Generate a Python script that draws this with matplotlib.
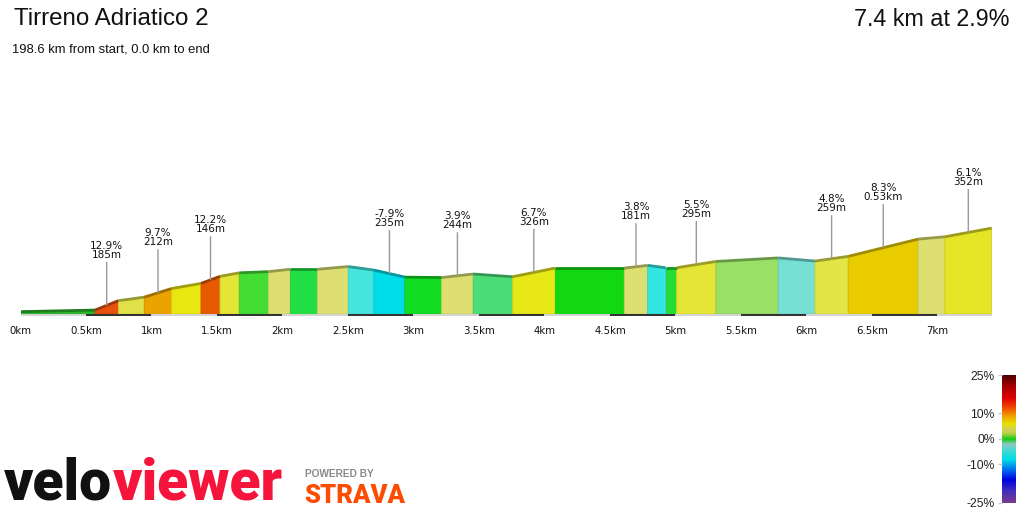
import numpy as np
import matplotlib
matplotlib.use("Agg")
import matplotlib.pyplot as plt
from matplotlib.colors import LinearSegmentedColormap, to_rgb

# profile vertices: distance (km) and elevation (m above the lowest point)
dist_km = [0.000, 0.569, 0.747, 0.945, 1.154, 1.378, 1.523, 1.670, 1.892, 2.057,
           2.266, 2.502, 2.698, 2.935, 3.215, 3.456, 3.757, 4.080, 4.609, 4.788,
           4.925, 5.009, 5.309, 5.785, 6.065, 6.319, 6.853, 7.057, 7.414]
elev_m = [6, 10, 34, 43, 65, 78, 96, 105, 108, 114,
          114, 121, 112, 94, 93, 102, 95, 117, 117, 124,
          118, 118, 134, 143, 135, 147, 191, 197, 219]

# fill colour of each segment (gradient colour in the original)
seg_colors = ['#2db82d', '#e8500c', '#e0e048', '#eba300', '#e8e810', '#e85a00',
              '#e5e535', '#44dd33', '#dde070', '#22dd44', '#dde070', '#44e5dd',
              '#00dde8', '#11dd22', '#dde070', '#4ddd77', '#e8e817', '#11d811',
              '#dde070', '#33e5e0', '#22dd33', '#e5e535', '#99e066', '#77e0d5',
              '#e2e545', '#e8cc00', '#dde070', '#e5e525']

# labelled climbs: segment index, grade, length
label_seg = [1, 3, 5, 12, 14, 16, 18, 21, 24, 25, 27]
label_grade = [12.9, 9.7, 12.2, -7.9, 3.9, 6.7, 3.8, 5.5, 4.8, 8.3, 6.1]
label_len = ['185m', '212m', '146m', '235m', '244m', '326m', '181m', '295m',
             '259m', '0.53km', '352m']

tick_km = [0, 0.5, 1, 1.5, 2, 2.5, 3, 3.5, 4, 4.5, 5, 5.5, 6, 6.5, 7]
tick_labels = ['0km', '0.5km', '1km', '1.5km', '2km', '2.5km', '3km', '3.5km',
               '4km', '4.5km', '5km', '5.5km', '6km', '6.5km', '7km']

cbar_ticks = [25, 10, 0, -10, -25]
grade_stops = [-25, -20, -16, -12, -8, -4, -2, 0, 2, 3.5, 6, 9, 12, 16, 20, 25]
grade_cols = ['#7b3a8c', '#3a2fc0', '#0000e0', '#0070f0', '#00dce8', '#50d8d0',
              '#90c8c0', '#10cc10', '#b0d040', '#d0d060', '#e8e000', '#f0a000',
              '#f05000', '#e00000', '#b00000', '#500000']

W, H = 1024, 512
fig = plt.figure(figsize=(W / 100, H / 100), dpi=100)
fig.patch.set_facecolor('white')

def px(x, y):
    return x / W, 1 - y / H

# ---- profile
ax = fig.add_axes([20.5 / W, (H - 316) / H, 971.2 / W, 156 / H])
ax.set_xlim(0, 7.414)
ax.set_ylim(-5.1, 392.7)
ax.axis('off')

def darker(c, f=0.68):
    r, g, b = to_rgb(c)
    return (r * f, g * f, b * f)

for i, c in enumerate(seg_colors):
    x0, x1 = dist_km[i], dist_km[i + 1]
    y0, y1 = elev_m[i], elev_m[i + 1]
    ax.fill([x0, x0, x1, x1], [0, y0, y1, 0], color=c, lw=0.6,
            ec=darker(c, 0.9), zorder=2)
    ax.plot([x0, x1], [y0, y1], color=darker(c), lw=2.0,
            solid_capstyle='butt', zorder=3)

# distance strip
for i in range(15):
    s = 0.5 * i
    e = min(s + 0.5, dist_km[-1])
    ax.fill_between([s, e], -5.1, 1.2, color='#d4d4d4' if i % 2 == 0 else '#333333',
                    lw=0, zorder=4)

for k, lab in zip(tick_km, tick_labels):
    ax.annotate(lab, (k, -5.1), xytext=(0, -7.5), textcoords='offset points',
                ha='center', va='top', fontsize=7.3, color='#111111',
                family='DejaVu Sans', annotation_clip=False)

for s, g, l in zip(label_seg, label_grade, label_len):
    xm = (dist_km[s] + dist_km[s + 1]) / 2
    ym = (elev_m[s] + elev_m[s + 1]) / 2
    ax.annotate(f'{g}%\n{l}', (xm, ym), xytext=(0, 33), textcoords='offset points',
                ha='center', va='bottom', fontsize=7.5, linespacing=0.85,
                color='#111111', family='DejaVu Sans', annotation_clip=False,
                arrowprops=dict(arrowstyle='-', color='#999999', lw=1.0,
                                shrinkA=0, shrinkB=0, relpos=(0.5, 0)),
                zorder=5)

# ---- titles
fig.text(*px(14, 19), 'Tirreno Adriatico 2', fontsize=17.4, family='Liberation Sans',
         ha='left', va='center', color='#111111')
fig.text(*px(12, 49), '198.6 km from start, 0.0 km to end', fontsize=9.4,
         family='Liberation Sans', ha='left', va='center', color='#111111')
fig.text(*px(1009, 19), '7.4 km at 2.9%', fontsize=16.8, family='Liberation Sans',
         ha='right', va='center', color='#111111')

# ---- colour scale
cax = fig.add_axes([1001.7 / W, (H - 502.7) / H, 13.3 / W, 127.7 / H])
cmap = LinearSegmentedColormap.from_list(
    'grade', [((v + 25) / 50, c) for v, c in zip(grade_stops, grade_cols)])
grad = np.linspace(-25, 25, 256).reshape(-1, 1)
cax.imshow(grad, cmap=cmap, aspect='auto', origin='lower', extent=[0, 1, -25, 25],
           vmin=-25, vmax=25)
cax.set_xticks([])
cax.set_yticks(cbar_ticks)
cax.set_yticklabels([f'{t}%' for t in cbar_ticks], family='Liberation Sans',
                    fontsize=8.7, color='#222222')
cax.tick_params(axis='y', length=3, width=1, color='#cccccc', pad=2)
for sp in cax.spines.values():
    sp.set_visible(False)

# ---- logos
logo_font = ['Roboto', 'Lato', 'DejaVu Sans']
t1 = fig.text(*px(4, 511), 'velo', fontsize=41, family=logo_font,
              fontweight='black', color='#111111', ha='left', va='bottom')
r = fig.canvas.get_renderer()
bb = t1.get_window_extent(r)
fig.text(bb.x1 / W + 1 / W, 1 - 511 / H, 'viewer', fontsize=41, family=logo_font,
         fontweight='black', color='#f5143c', ha='left', va='bottom')
fig.text(*px(305, 477), 'POWERED BY', fontsize=7.3, family='Liberation Sans',
         fontweight='bold', color='#8a8a8a', ha='left', va='baseline')
fig.text(*px(304, 503), 'STRAVA', fontsize=18.5, family=logo_font,
         fontweight='black', color='#fc4c02', ha='left', va='baseline')

fig.savefig('out.png', dpi=100, facecolor='white')
